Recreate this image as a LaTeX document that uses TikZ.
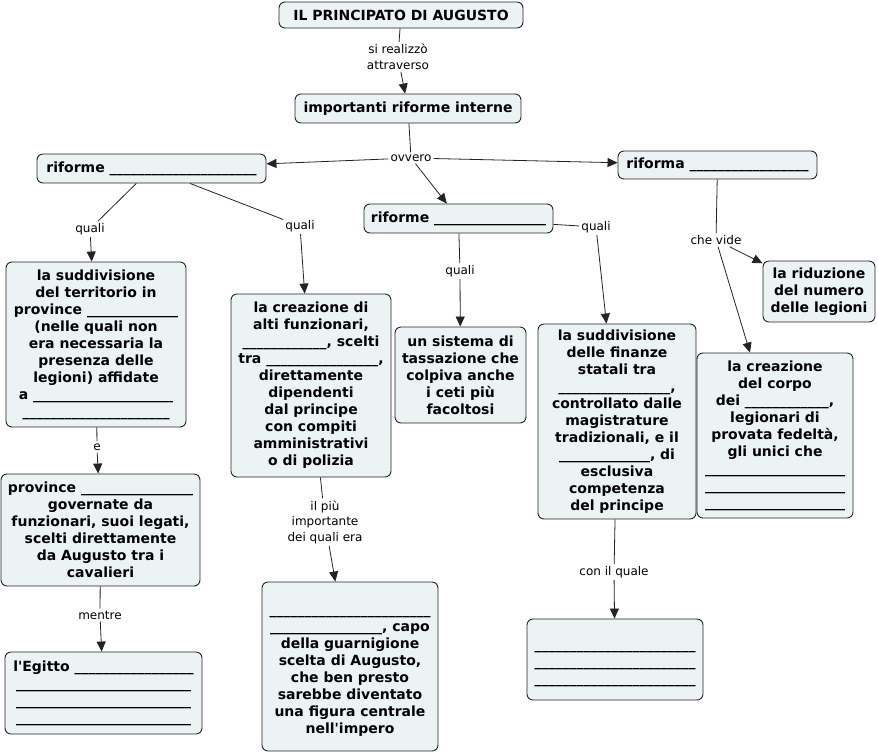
\documentclass[tikz,border=0pt]{standalone}
\usepackage{fontspec}
\setmainfont{DejaVu Sans}
\usepackage{tikz}
\usetikzlibrary{arrows.meta}
\definecolor{cmapfill}{RGB}{236,243,245}
\definecolor{cmapline}{RGB}{35,35,35}
\newcommand{\fillin}[1]{\foreach\k in {1,...,#1}{\_}}

\begin{document}
\begin{tikzpicture}[x=1pt,y=-1pt,
    concept/.style={draw=cmapline, fill=cmapfill, rounded corners=6pt, line width=0.9pt,
      align=center, inner sep=3pt, font=\fontsize{14}{17}\selectfont\bfseries},
    linkw/.style={align=center, inner sep=2pt, font=\fontsize{12}{15.5}\selectfont},
    tie/.style={draw=cmapline, line width=0.8pt},
    to/.style={tie, -{Triangle[length=10pt,width=9pt]}}]
  \useasboundingbox (0,0) rectangle (878,753);
  % concepts
  \node[concept, minimum width=244, minimum height=26] (top) at (401,15) {IL PRINCIPATO DI AUGUSTO};
  \node[concept, minimum width=226, minimum height=29] (imp) at (408,108.5) {importanti riforme interne};
  \node[concept, minimum width=229, minimum height=29] (ra) at (151.5,168.5) {riforme \fillin{21}};
  \node[concept, minimum width=189, minimum height=29] (rb) at (458.5,218.5) {riforme \fillin{16}};
  \node[concept, minimum width=199, minimum height=28] (rc) at (717.5,165) {riforma \fillin{17}};
  \node[concept, minimum width=180, minimum height=165] (prov) at (96,344.5)
    {la suddivisione\\del territorio in\\province \fillin{13}\\(nelle quali non\\era necessaria la\\presenza delle\\legioni) affidate\\a \fillin{20}\\\fillin{21}};
  \node[concept, minimum width=199, minimum height=112] (gov) at (100.5,530)
    {province \fillin{16}\\governate da\\funzionari, suoi legati,\\scelti direttamente\\da Augusto tra i\\cavalieri};
  \node[concept, minimum width=197, minimum height=82] (egy) at (103.5,693)
    {l\textquotesingle Egitto \fillin{17}\\\fillin{25}\\\fillin{25}\\\fillin{25}};
  \node[concept, minimum width=160, minimum height=183] (funz) at (311,385.5)
    {la creazione di\\alti funzionari,\\\fillin{12}, scelti\\tra \fillin{16},\\direttamente\\dipendenti\\dal principe\\con compiti\\amministrativi\\o di polizia};
  \node[concept, minimum width=176, minimum height=169] (pref) at (350,666.5)
    {\mbox{}\\\fillin{23}\\\fillin{16}, capo\\della guarnigione\\scelta di Augusto,\\che ben presto\\sarebbe diventato\\una figura centrale\\nell\textquotesingle impero};
  \node[concept, minimum width=131, minimum height=96] (tax) at (460.5,375)
    {un sistema di\\tassazione che\\colpiva anche\\i ceti più\\facoltosi};
  \node[concept, minimum width=158, minimum height=195] (fin) at (617,421.5)
    {la suddivisione\\delle finanze\\statali tra\\\fillin{16},\\controllato dalle\\magistrature\\tradizionali, e il\\\fillin{13}, di\\esclusiva\\competenza\\del principe};
  \node[concept, minimum width=176, minimum height=81] (fisc) at (615,659.5)
    {\mbox{}\\\fillin{23}\\\fillin{23}\\\fillin{23}};
  \node[concept, minimum width=112, minimum height=61] (leg) at (819,291.5)
    {la riduzione\\del numero\\delle legioni};
  \node[concept, minimum width=156, minimum height=165] (pret) at (775,435.5)
    {la creazione\\del corpo\\dei \fillin{12},\\legionari di\\provata fedeltà,\\gli unici che\\\fillin{20}\\\fillin{20}\\\fillin{20}};
  % linking words
  \node[linkw] (w1) at (398,57) {si realizzò\\attraverso};
  \node[linkw] (w2) at (411,158) {ovvero};
  \node[linkw] (w3) at (90,229) {quali};
  \node[linkw] (w4) at (300,226) {quali};
  \node[linkw] (w5) at (460,271) {quali};
  \node[linkw] (w6) at (596,227) {quali};
  \node[linkw] (w7) at (716,240) {che vide};
  \node[linkw] (w8) at (97,447) {e};
  \node[linkw] (w9) at (100,615) {mentre};
  \node[linkw] (w10) at (325,522) {il più\\importante\\dei quali era};
  \node[linkw] (w11) at (614,572) {con il quale};
  % connectors
  \draw[tie] (top) -- (w1);   \draw[to] (w1) -- (imp);
  \draw[tie] (imp) -- (w2);
  \draw[to] (w2) -- (ra);     \draw[to] (w2) -- (rb);    \draw[to] (w2) -- (rc);
  \draw[tie] (ra) -- (w3);    \draw[to] (w3) -- (prov);
  \draw[tie] (ra) -- (w4);    \draw[to] (w4) -- (funz);
  \draw[tie] (rb) -- (w5);    \draw[to] (w5) -- (tax);
  \draw[tie] (rb) -- (w6);    \draw[to] (w6) -- (fin);
  \draw[tie] (rc) -- (w7);
  \draw[to] (w7) -- (leg);    \draw[to] (w7) -- (pret);
  \draw[tie] (prov) -- (w8);  \draw[to] (w8) -- (gov);
  \draw[tie] (gov) -- (w9);   \draw[to] (w9) -- (egy);
  \draw[tie] (funz) -- (w10); \draw[to] (w10) -- (pref);
  \draw[tie] (fin) -- (w11);  \draw[to] (w11) -- (fisc);
\end{tikzpicture}
\end{document}
